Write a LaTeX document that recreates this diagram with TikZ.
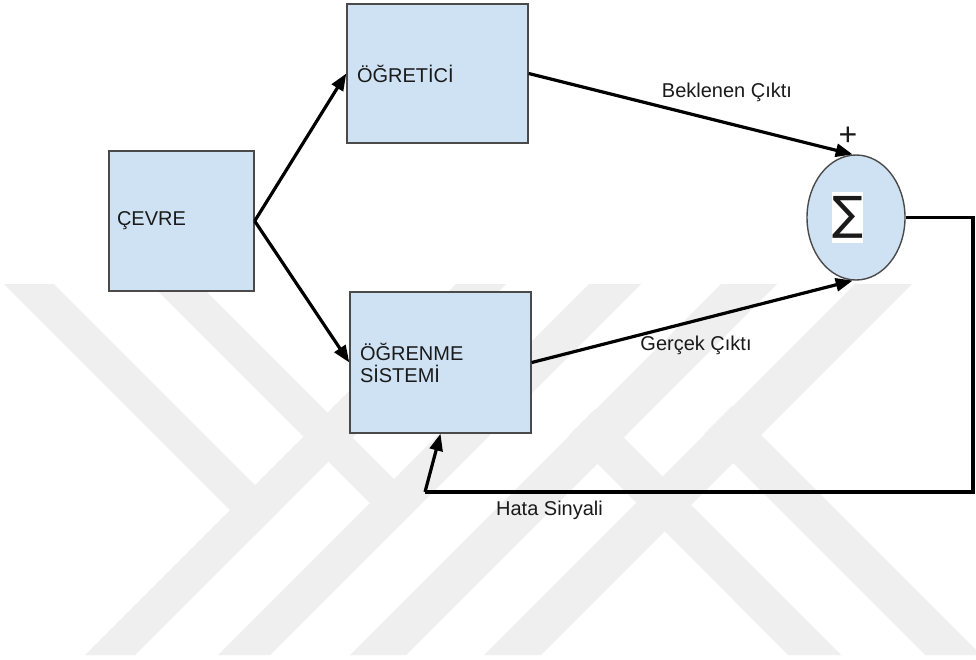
\documentclass[tikz,border=0pt]{standalone}
\usepackage{fontspec}
\setmainfont{Liberation Sans}
\newfontfamily\symfont{DejaVu Sans}
\usetikzlibrary{arrows.meta,shapes.geometric}
\definecolor{boxfill}{HTML}{CFE2F3}
\definecolor{boxline}{HTML}{4A4A4A}
\definecolor{wmark}{HTML}{EFEFEF}
\definecolor{ink}{HTML}{1A1A1A}
\begin{document}
\begin{tikzpicture}[x=1pt,y=-1pt,
  block/.style={draw=boxline, fill=boxfill, line width=1.4pt, align=left,
    inner ysep=0pt, font=\fontsize{20}{22}\selectfont, text=ink},
  lbl/.style={font=\fontsize{20}{22}\selectfont, text=ink, inner sep=0pt},
  wire/.style={line width=3.2pt, draw=black},
  arr/.style={wire, -{Triangle[length=17pt,width=13pt]}}]
\useasboundingbox[fill=white] (0,0) rectangle (976,659);

% faint background emblem made of 45-degree bands
\begin{scope}
  \clip (0,284) rectangle (976,655);
  \fill[wmark] (456,284) -- (506,284) -- (135,655) -- (85,655) -- cycle;
  \fill[wmark] (589,284) -- (641,284) -- (270,655) -- (218,655) -- cycle;
  \fill[wmark] (721,284) -- (777,284) -- (406,655) -- (350,655) -- cycle;
  \fill[wmark] (855,284) -- (912,284) -- (541,655) -- (484,655) -- cycle;
  \fill[wmark] (4,284) -- (54,284) -- (280,510) -- (255,535) -- cycle;
  \fill[wmark] (151,284) -- (199,284) -- (420,505) -- (396,529) -- cycle;
  \fill[wmark] (569,435) -- (595,409) -- (841,655) -- (788,655) -- cycle;
  \fill[wmark] (704,434) -- (732,406) -- (981,655) -- (925,655) -- cycle;
\end{scope}

% blocks
\node[block, minimum width=145pt, minimum height=140pt, text width=129pt,
  inner xsep=8pt] (cevre) at (181.5,221) {ÇEVRE};
\node[block, minimum width=181pt, minimum height=139pt, text width=161pt,
  inner xsep=10pt] (ogretici) at (437.5,73.5) {ÖĞRETİCİ};
\node[block, minimum width=181pt, minimum height=141pt, text width=161pt,
  inner xsep=10pt] (ogrenme) at (440.5,362.5) {ÖĞRENME\\SİSTEMİ};

% summing junction
\node[ellipse, draw=boxline, fill=boxfill, line width=1.4pt,
  minimum width=98pt, minimum height=125pt, inner sep=0pt] (sum) at (856,217.5) {};
\node[fill=white, minimum width=31pt, minimum height=51pt, inner sep=0pt,
  font=\symfont\fontsize{46}{46}\selectfont, text=ink] (sigma) at (847.5,217.5) {∑};
\node[inner sep=0pt, font=\fontsize{32}{32}\selectfont, text=ink] (plus) at (848,136) {+};

% feedback path corners
\coordinate (corner) at (973,492);
\coordinate (hata) at (425,492);

% connectors
\draw[arr] (cevre.east) -- (ogretici.west);
\draw[arr] (cevre.east) -- (ogrenme.west);
\draw[arr] (ogretici.east) -- (sum.93);
\draw[arr] (ogrenme.east) -- (sum.267);
\draw[wire] (sum.east) -| (corner) -- (hata);
\draw[arr] (hata) -- (ogrenme.south);

% signal labels
\node[lbl] (beklenen) at (727,92) {Beklenen Çıktı};
\node[lbl] (gercek) at (696,345) {Gerçek Çıktı};
\node[lbl] (hatasinyali) at (549.5,510) {Hata Sinyali};
\end{tikzpicture}
\end{document}
